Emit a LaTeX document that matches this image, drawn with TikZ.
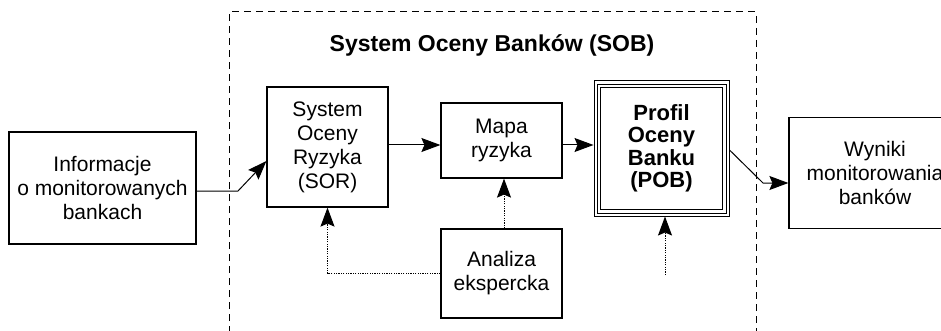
\documentclass[tikz,border=0pt]{standalone}
\usepackage{fontspec}
\setmainfont{Liberation Sans}
\usepackage{tikz}
\usetikzlibrary{arrows.meta}
\usetikzlibrary{calc}

\tikzset{
  blok/.style={draw, line width=1.2pt, align=center, inner sep=0pt,
    font=\fontsize{21}{24}\selectfont},
  strz/.style={line width=1pt, -{Stealth[length=19pt,width=14pt,inset=3pt]}},
  kropki/.style={strz, dash pattern=on 1.2pt off 1.2pt},
}

\begin{document}
\begin{tikzpicture}[x=1pt,y=-1pt]
        \newcommand{\sobramaleft}{229}
        \newcommand{\sobramaright}{756}
        \newcommand{\sobramatop}{12}
        \newcommand{\sobramabottom}{345}
        \newcommand{\strzalkay}{145}
        \useasboundingbox (0,0) rectangle (941,331);
        \clip (0,0) rectangle (941,331);
        % dashed frame of the SOB
        \draw[line width=1pt, dash pattern=on 7pt off 5pt] (\sobramaleft,\sobramabottom) -- (\sobramaleft,\sobramatop) -- (\sobramaright,\sobramatop) -- (\sobramaright,\sobramabottom);
        \node[font=\bfseries\fontsize{23}{26}\selectfont] (sob) at (492,45) {System Oceny Banków (SOB)};
        % boxes
        \node[blok, minimum width=187pt, minimum height=112pt] (info) at (102.5,188) {Informacje\\o monitorowanych\\bankach};
        \node[blok, minimum width=121pt, minimum height=120pt] (sor) at (327.5,147) {System\\Oceny\\Ryzyka\\(SOR)};
        \node[blok, minimum width=121pt, minimum height=75pt] (mapa) at (501.5,140.5) {Mapa\\ryzyka};
        \node[blok, minimum width=121pt, minimum height=89pt] (analiza) at (501.5,273.5) {Analiza\\ekspercka};
        \node[blok, line width=1pt, minimum width=135pt, minimum height=135pt, font=\bfseries\fontsize{22}{22.5}\selectfont] (pob) at (661.5,148.5) {Profil\\Oceny\\Banku\\(POB)};
        \draw[line width=0.8pt] ($(pob.north west)+(3.5,3.5)$) rectangle ($(pob.south east)+(-3.5,-3.5)$);
        \draw[line width=1.2pt] ($(pob.north west)+(7,7)$) rectangle ($(pob.south east)+(-7,-7)$);
        \node[blok, minimum width=172pt, minimum height=111pt] (wyniki) at (875,173) {Wyniki\\monitorowania\\banków};
        % arrows
        \coordinate (infobend) at (238,191);
        \draw[strz] ([yshift=-3pt]info.east) -- (infobend) -- ([yshift=-14pt]sor.west);
        \draw[strz] (sor.east |- 0,\strzalkay) -- (mapa.west |- 0,\strzalkay);
        \draw[strz] (mapa.east |- 0,\strzalkay) -- (pob.west |- 0,\strzalkay);
        \draw[kropki] ([xshift=2.5pt]analiza.north) -- ([xshift=2.5pt]mapa.south);
        \draw[kropki] (analiza.west) -| (sor.south);
        \coordinate (pobin) at (665,275);
        \draw[kropki] (pobin) -- (pobin |- pob.south);
        \coordinate (pobbend) at (763,183);
        \draw[strz] ([yshift=-1.5pt]pob.east) -- (pobbend) -- (wyniki.west |- pobbend);
    \end{tikzpicture}
\end{document}
